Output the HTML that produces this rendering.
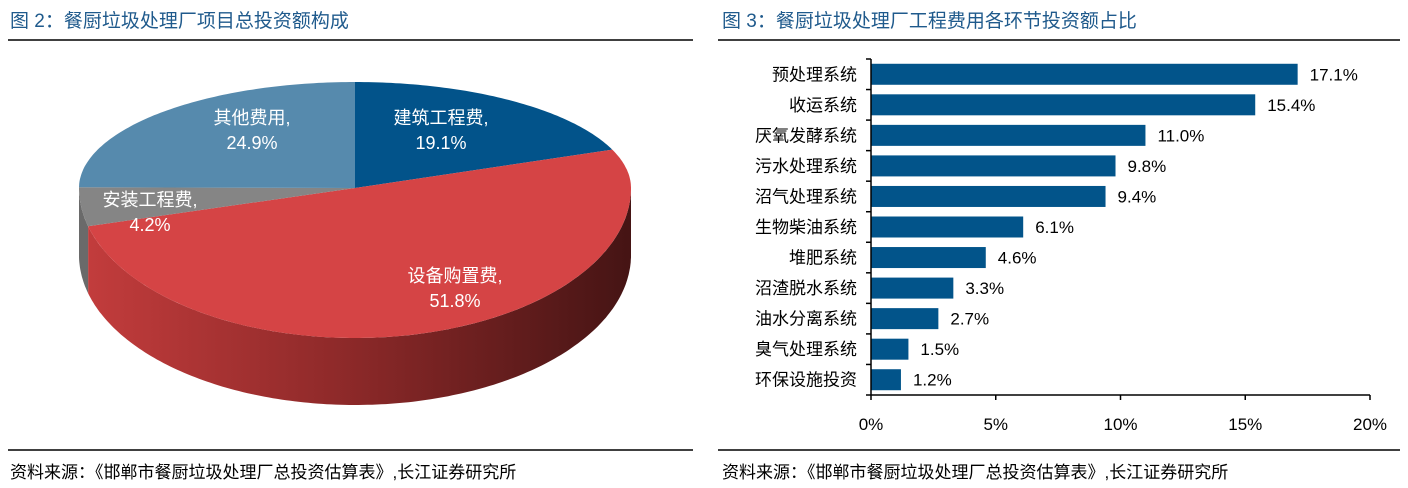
<!DOCTYPE html>
<html><head><meta charset="utf-8"><style>
body{margin:0;background:#fff;width:1408px;height:488px;overflow:hidden;font-family:"Liberation Sans","Noto Sans CJK SC",sans-serif;}
svg{position:absolute;left:0;top:0}
</style></head><body>
<svg id="s" width="1408" height="488" font-family="Liberation Sans, Noto Sans CJK SC, sans-serif">
<text x="10" y="27" font-size="19" fill="#1f5a8c">图 2：餐厨垃圾处理厂项目总投资额构成</text>
<line x1="8" y1="40" x2="693" y2="40" stroke="#000" stroke-width="1.5"/>
<text x="722" y="27" font-size="19" fill="#1f5a8c">图 3：餐厨垃圾处理厂工程费用各环节投资额占比</text>
<line x1="718" y1="40" x2="1400" y2="40" stroke="#000" stroke-width="1.5"/>
<line x1="8" y1="450" x2="693" y2="450" stroke="#000" stroke-width="1.5"/>
<line x1="718" y1="450" x2="1400" y2="450" stroke="#000" stroke-width="1.5"/>
<text x="10" y="478" font-size="17" fill="#000">资料来源：《邯郸市餐厨垃圾处理厂总投资估算表》,长江证券研究所</text>
<text x="722" y="478" font-size="17" fill="#000">资料来源：《邯郸市餐厨垃圾处理厂总投资估算表》,长江证券研究所</text>
<defs><linearGradient id="side" x1="0" x2="1" y1="0" y2="0">
<stop offset="0" stop-color="#c23c3c"/><stop offset="0.5" stop-color="#8a2828"/><stop offset="1" stop-color="#451414"/></linearGradient></defs>
<g id="pie"></g>
<g id="bars"></g>
</svg>
<script>
const pieLabels=["建筑工程费","设备购置费","安装工程费","其他费用"];
const pieValues=[19.1,51.8,4.2,24.9];
const pieColors=["#02538a","#d54445","#858585","#568aad"];
const barCats=["预处理系统","收运系统","厌氧发酵系统","污水处理系统","沼气处理系统","生物柴油系统","堆肥系统","沼渣脱水系统","油水分离系统","臭气处理系统","环保设施投资"];
const barVals=[17.1,15.4,11.0,9.8,9.4,6.1,4.6,3.3,2.7,1.5,1.2];
const xTicks=[0,5,10,15,20];
const NS="http://www.w3.org/2000/svg";
function mk(p,tag,attrs){const e=document.createElementNS(NS,tag);for(const k in attrs)e.setAttribute(k,attrs[k]);p.appendChild(e);return e;}
// pie
const pie=document.getElementById('pie');
const cx=355,cy=188,rx=276,ryB=106,ryF=150,dep=67;
const P=(t,dy=0)=>{const c=Math.cos(t);return [cx+rx*Math.sin(t),cy-(c>0?ryB:ryF)*c+dy];};
const arc=(t1,t2,dy=0)=>{const n=Math.max(2,Math.ceil(Math.abs(t2-t1)*60));const pts=[];for(let k=0;k<=n;k++)pts.push(P(t1+(t2-t1)*k/n,dy).map(v=>v.toFixed(1)).join(','));return pts;};
const total=pieValues.reduce((a,b)=>a+b,0);
let a=0;const spans=[];
pieValues.forEach(v=>{const b=a+v/total*2*Math.PI;spans.push([a,b]);a=b;});
spans.forEach((s,i)=>{
  const t1=Math.max(s[0],Math.PI/2),t2=Math.min(s[1],3*Math.PI/2);
  if(t2<=t1)return;
  const pts=arc(t1,t2).concat(arc(t2,t1,dep));
  const e=mk(pie,'path',{d:'M'+pts.join(' L')+' Z',fill:i===1?'url(#side)':'#6a6a6a'});
  
  
});
const lpos=[[441,128],[455,286],[150,210],[252,128]];
spans.forEach((s,i)=>{
  const pts=[cx+','+cy].concat(arc(s[0],s[1]));
  const e=mk(pie,'path',{d:'M'+pts.join(' L')+' Z',fill:pieColors[i]});
  
  
  const [lx,ly]=lpos[i];
  const t=mk(pie,'text',{x:lx,y:ly-4,'text-anchor':'middle','font-size':18,fill:'#fff'});
  t.textContent=pieLabels[i]+',';
  
  
  const t2=mk(pie,'text',{x:lx,y:ly+21,'text-anchor':'middle','font-size':18,fill:'#fff'});
  t2.textContent=pieValues[i].toFixed(1)+'%';
  
  
});
// bars
const g=document.getElementById('bars');
const x0=871,x1=1370,yTop=59,yBot=395;
const X=v=>x0+(v-xTicks[0])/(xTicks[xTicks.length-1]-xTicks[0])*(x1-x0);
const band=(yBot-yTop)/barCats.length;
barCats.forEach((c,i)=>{
  const yc=yTop+band*(i+0.5);
  const r=mk(g,'rect',{x:X(0),y:yc-10.5,width:X(barVals[i])-X(0),height:21,fill:'#02548a'});
  
  
  const t=mk(g,'text',{x:857,y:yc+6,'text-anchor':'end','font-size':17,fill:'#000'});t.textContent=c;
  
  
  const v=mk(g,'text',{x:X(barVals[i])+12,y:yc+6,'font-size':17,fill:'#000'});v.textContent=barVals[i].toFixed(1)+'%';
  
  
});
for(let i=0;i<=barCats.length;i++){const y=yTop+band*i;const l=mk(g,'line',{x1:x0-5,x2:x0,y1:y,y2:y,stroke:'#000','stroke-width':1.5});
  
  }
const ya=mk(g,'line',{x1:x0,x2:x0,y1:yTop,y2:yBot,stroke:'#000','stroke-width':1.5});


const xa=mk(g,'line',{x1:x0,x2:x1,y1:yBot,y2:yBot,stroke:'#000','stroke-width':1.5});


xTicks.forEach(v=>{const l=mk(g,'line',{x1:X(v),x2:X(v),y1:yBot,y2:yBot+5,stroke:'#000','stroke-width':1.5});
  
  
  const t=mk(g,'text',{x:X(v),y:430,'text-anchor':'middle','font-size':17,fill:'#000'});t.textContent=v+'%';
  
  });
</script>
</body></html>
